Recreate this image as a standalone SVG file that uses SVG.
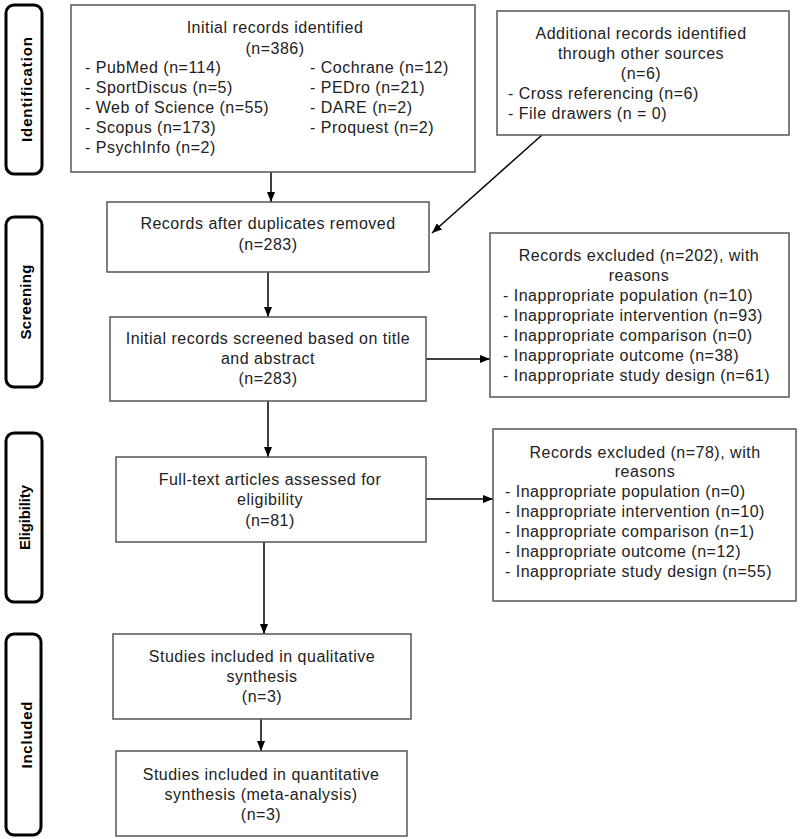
<svg xmlns="http://www.w3.org/2000/svg" width="800" height="839" viewBox="0 0 800 839">
<defs>
<style>
.bg{fill:#ffffff}
.box{fill:#ffffff;stroke:#555555;stroke-width:1.5}
.stage{fill:#ffffff;stroke:#000000;stroke-width:3}
.t{font-family:"Liberation Sans",Arial,sans-serif;font-size:16px;letter-spacing:0.5px;fill:#222222}
.c{text-anchor:middle}
.lab{font-family:"Liberation Sans",Arial,sans-serif;font-size:15px;font-weight:bold;fill:#000000;text-anchor:middle}
.conn{stroke:#000000;stroke-width:1.5;fill:none;marker-end:url(#arr)}
</style>
<marker id="arr" markerUnits="userSpaceOnUse" markerWidth="10" markerHeight="8" refX="10" refY="4" orient="auto">
<path d="M0,0 L10,4 L0,8 Z" fill="#000000"/>
</marker>
</defs>
<rect class="bg" x="0" y="0" width="800" height="839"/>

<g id="stage-identification">
<rect class="stage" x="6" y="5" width="36" height="169" rx="8"/>
<text class="lab" transform="translate(24,89.5) rotate(-90)" y="8" textLength="105" lengthAdjust="spacing">Identification</text>
</g>
<g id="stage-screening">
<rect class="stage" x="6" y="217" width="36" height="170" rx="8"/>
<text class="lab" transform="translate(24,302) rotate(-90)" y="7" textLength="75" lengthAdjust="spacing">Screening</text>
</g>
<g id="stage-eligibility">
<rect class="stage" x="6" y="433" width="36" height="169" rx="8"/>
<text class="lab" transform="translate(24,517.5) rotate(-90)" y="6" textLength="65" lengthAdjust="spacing">Eligibility</text>
</g>
<g id="stage-included">
<rect class="stage" x="6" y="634" width="35" height="201" rx="8"/>
<text class="lab" transform="translate(23.5,735) rotate(-90)" y="8" textLength="67" lengthAdjust="spacing">Included</text>
</g>

<g id="connectors">
<line class="conn" x1="271" y1="172" x2="271" y2="202"/>
<line class="conn" x1="542" y1="135" x2="432" y2="233"/>
<line class="conn" x1="268" y1="272" x2="268" y2="317"/>
<line class="conn" x1="426" y1="359" x2="490" y2="359"/>
<line class="conn" x1="268" y1="401" x2="268" y2="457"/>
<line class="conn" x1="426" y1="499" x2="493" y2="499"/>
<line class="conn" x1="264" y1="542" x2="264" y2="634"/>
<line class="conn" x1="261" y1="719" x2="261" y2="751"/>
</g>

<g id="node-initial">
<rect class="box" x="71" y="5" width="404" height="167"/>
<text class="t c" x="275" y="33">Initial records identified</text>
<text class="t c" x="275" y="54">(n=386)</text>
<text class="t" x="85" y="73">- PubMed (n=114)</text>
<text class="t" x="85" y="93">- SportDiscus (n=5)</text>
<text class="t" x="85" y="113">- Web of Science (n=55)</text>
<text class="t" x="85" y="133">- Scopus (n=173)</text>
<text class="t" x="85" y="153">- PsychInfo (n=2)</text>
<text class="t" x="310" y="73">- Cochrane (n=12)</text>
<text class="t" x="310" y="93">- PEDro (n=21)</text>
<text class="t" x="310" y="113">- DARE (n=2)</text>
<text class="t" x="310" y="133">- Proquest (n=2)</text>
</g>

<g id="node-additional">
<rect class="box" x="497" y="11" width="292" height="124"/>
<text class="t c" x="641" y="39">Additional records identified</text>
<text class="t c" x="641" y="59">through other sources</text>
<text class="t c" x="641" y="79">(n=6)</text>
<text class="t" x="508" y="99">- Cross referencing (n=6)</text>
<text class="t" x="508" y="119">- File drawers (n = 0)</text>
</g>

<g id="node-duplicates">
<rect class="box" x="107" y="202" width="322" height="70"/>
<text class="t c" x="268" y="229">Records after duplicates removed</text>
<text class="t c" x="268" y="250">(n=283)</text>
</g>

<g id="node-screened">
<rect class="box" x="110" y="317" width="316" height="84"/>
<text class="t c" x="268" y="344">Initial records screened based on title</text>
<text class="t c" x="268" y="364">and abstract</text>
<text class="t c" x="268" y="384">(n=283)</text>
</g>

<g id="node-excluded1">
<rect class="box" x="490" y="233" width="299" height="164"/>
<text class="t c" x="639" y="261">Records excluded (n=202), with</text>
<text class="t c" x="639" y="281">reasons</text>
<text class="t" x="503" y="301">- Inappropriate population (n=10)</text>
<text class="t" x="503" y="321">- Inappropriate intervention (n=93)</text>
<text class="t" x="503" y="341">- Inappropriate comparison (n=0)</text>
<text class="t" x="503" y="361">- Inappropriate outcome (n=38)</text>
<text class="t" x="503" y="381">- Inappropriate study design (n=61)</text>
</g>

<g id="node-fulltext">
<rect class="box" x="116" y="457" width="310" height="85"/>
<text class="t c" x="270" y="485">Full-text articles assessed for</text>
<text class="t c" x="270" y="505">eligibility</text>
<text class="t c" x="270" y="526">(n=81)</text>
</g>

<g id="node-excluded2">
<rect class="box" x="493" y="429" width="303" height="172"/>
<text class="t c" x="645" y="458">Records excluded (n=78), with</text>
<text class="t c" x="645" y="477">reasons</text>
<text class="t" x="505" y="497">- Inappropriate population (n=0)</text>
<text class="t" x="505" y="517">- Inappropriate intervention (n=10)</text>
<text class="t" x="505" y="537">- Inappropriate comparison (n=1)</text>
<text class="t" x="505" y="557">- Inappropriate outcome (n=12)</text>
<text class="t" x="505" y="577">- Inappropriate study design (n=55)</text>
</g>

<g id="node-qualitative">
<rect class="box" x="113" y="634" width="298" height="85"/>
<text class="t c" x="262" y="662">Studies included in qualitative</text>
<text class="t c" x="262" y="682">synthesis</text>
<text class="t c" x="262" y="702">(n=3)</text>
</g>

<g id="node-quantitative">
<rect class="box" x="116" y="751" width="291" height="85"/>
<text class="t c" x="261" y="780">Studies included in quantitative</text>
<text class="t c" x="261" y="800">synthesis (meta-analysis)</text>
<text class="t c" x="261" y="820">(n=3)</text>
</g>
</svg>
